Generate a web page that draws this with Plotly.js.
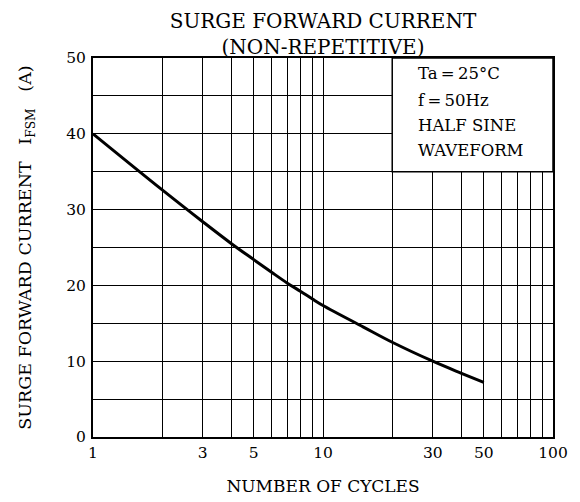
<!DOCTYPE html>
<html>
<head>
<meta charset="utf-8">
<script src="https://cdn.plot.ly/plotly-3.0.1.min.js"></script>
<style>html,body{margin:0;padding:0;background:#fff;}#chart{width:580px;height:502px;}</style>
</head>
<body>
<div id="chart"></div>
<script>
// Data
const cycles = [1, 2, 3, 4, 5, 6, 7, 8, 9, 10, 15, 20, 30, 40, 50];
const surgeCurrent = [40, 32.6, 28.4, 25.5, 23.4, 21.7, 20.3, 19.2, 18.2, 17.35, 14.5, 12.5, 10.0, 8.4, 7.2];

const xTickVals = [1, 2, 3, 4, 5, 6, 7, 8, 9, 10, 20, 30, 40, 50, 60, 70, 80, 90, 100];
const xTickText = ['1', '', '3', '', '5', '', '', '', '', '10', '', '30', '', '50', '', '', '', '', '100'];
const yTickVals = [0, 5, 10, 15, 20, 25, 30, 35, 40, 45, 50];
const yTickText = ['0', '', '10', '', '20', '', '30', '', '40', '', '50'];

const conditionLines = ['Ta\u2009=\u200925°C', 'f\u2009=\u200950Hz', 'HALF SINE', 'WAVEFORM'];
const conditionY = [0.960, 0.889, 0.821, 0.757];

const FONT = 'DejaVu Serif, Liberation Serif, serif';

const trace = {
  x: cycles,
  y: surgeCurrent,
  type: 'scatter',
  mode: 'lines',
  line: {color: '#000', width: 3, shape: 'spline', smoothing: 1},
  hoverinfo: 'skip',
  showlegend: false
};

const annotations = conditionLines.map((t, i) => ({
  xref: 'paper', yref: 'paper',
  x: 0.703, y: conditionY[i],
  xanchor: 'left', yanchor: 'middle',
  text: t, showarrow: false,
  font: {family: FONT, size: 16.5, color: '#000'}
}));

const layout = {
  width: 580, height: 502,
  margin: {l: 93, r: 27, t: 58, b: 65},
  paper_bgcolor: '#fff', plot_bgcolor: '#fff',
  font: {family: FONT, color: '#000'},
  title: {
    text: 'SURGE FORWARD CURRENT<br>(NON-REPETITIVE)',
    font: {family: FONT, size: 20, color: '#000'},
    xref: 'paper', x: 0.5, xanchor: 'center',
    yref: 'container', y: 0.945, yanchor: 'top'
  },
  xaxis: {
    type: 'log',
    range: [0, 2],
    tickmode: 'array', tickvals: xTickVals, ticktext: xTickText,
    showgrid: true, gridcolor: '#000', gridwidth: 1,
    showline: true, linecolor: '#000', linewidth: 2, mirror: true,
    ticks: '', zeroline: false,
    tickfont: {family: FONT, size: 15.5, color: '#000'},
    title: {text: 'NUMBER OF CYCLES', font: {family: FONT, size: 17, color: '#000'}, standoff: 20}
  },
  yaxis: {
    range: [0, 50],
    tickmode: 'array', tickvals: yTickVals, ticktext: yTickText,
    showgrid: true, gridcolor: '#000', gridwidth: 1,
    showline: true, linecolor: '#000', linewidth: 2, mirror: true,
    ticks: '', zeroline: false, ticklabelstandoff: 2,
    tickfont: {family: FONT, size: 15.5, color: '#000'},
    title: {text: 'SURGE FORWARD CURRENT   I<sub>FSM</sub>   (A)', font: {family: FONT, size: 17.5, color: '#000'}, standoff: 30}
  },
  shapes: [{
    type: 'rect', xref: 'paper', yref: 'paper',
    x0: 0.6505, x1: 1, y0: 0.7, y1: 1,
    fillcolor: '#fff', line: {color: '#000', width: 1.5}, layer: 'above'
  }],
  annotations: annotations
};

Plotly.newPlot('chart', [trace], layout, {displayModeBar: false});
</script>
</body>
</html>
